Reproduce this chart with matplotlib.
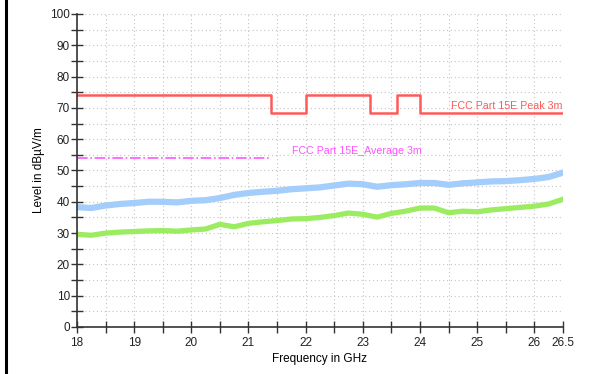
import matplotlib.pyplot as plt
from matplotlib.lines import Line2D

plt.rcParams['font.family'] = ['Liberation Sans', 'DejaVu Sans']

freq = [18.0, 18.25, 18.5, 18.75, 19.0, 19.25, 19.5, 19.75, 20.0, 20.25, 20.5,
        20.75, 21.0, 21.25, 21.5, 21.75, 22.0, 22.25, 22.5, 22.75, 23.0, 23.25,
        23.5, 23.75, 24.0, 24.25, 24.5, 24.75, 25.0, 25.25, 25.5, 25.75, 26.0,
        26.25, 26.5]
peak_trace = [38.3, 38.0, 38.8, 39.3, 39.6, 40.0, 40.0, 39.8, 40.3, 40.5, 41.2,
              42.2, 42.8, 43.2, 43.5, 44.0, 44.3, 44.6, 45.2, 45.8, 45.6, 44.8,
              45.3, 45.6, 46.0, 46.0, 45.4, 45.9, 46.2, 46.5, 46.6, 46.9, 47.3,
              47.9, 49.3]
avg_trace = [29.6, 29.3, 30.0, 30.3, 30.5, 30.7, 30.8, 30.6, 31.0, 31.3, 32.8,
             32.0, 33.1, 33.6, 34.0, 34.5, 34.6, 35.0, 35.6, 36.4, 36.0, 35.1,
             36.3, 37.0, 38.0, 38.0, 36.5, 37.0, 36.8, 37.4, 37.8, 38.2, 38.6,
             39.3, 40.8]

# limit lines
peak_lim_f = [18.0, 21.4, 21.4, 22.0, 22.0, 23.12, 23.12, 23.6, 23.6, 24.0, 24.0, 26.5]
peak_lim_v = [74, 74, 68.2, 68.2, 74, 74, 68.2, 68.2, 74, 74, 68.2, 68.2]
avg_lim_f = [18.0, 21.4]
avg_lim_v = [54, 54]

x_ticks = [18, 19, 20, 21, 22, 23, 24, 25, 26, 26.5]
x_labels = ['18', '19', '20', '21', '22', '23', '24', '25', '26', '26.5']

fig = plt.figure(figsize=(5.94, 3.74), dpi=100)
ax = fig.add_axes([0.1296, 0.1257, 0.818, 0.837])

# page border on the left
fig.add_artist(Line2D([0.0095, 0.0095], [0, 1], color='black', lw=2.2,
                      transform=fig.transFigure))

ax.plot(freq, peak_trace, color='#a3cdfb', lw=4.5, solid_joinstyle='round')
ax.plot(freq, avg_trace, color='#9cec62', lw=3.8, solid_joinstyle='round')
ax.plot(peak_lim_f, peak_lim_v, color='#ff5a5a', lw=1.8)
ax.plot(avg_lim_f, avg_lim_v, color='#ff55ff', lw=1.2, ls='-.')

ax.text(26.5, 69.0, 'FCC Part 15E Peak 3m', color='#ff5a5a', fontsize=7.7,
        ha='right', va='bottom')
ax.text(22.9, 54.6, 'FCC Part 15E_Average 3m', color='#ff55ff', fontsize=7.7,
        ha='center', va='bottom')

ax.set_xlim(18, 26.5)
ax.set_ylim(0, 100)
ax.set_xticks(x_ticks)
ax.set_xticklabels(x_labels)
ax.set_xticks([18.5 + i for i in range(8)], minor=True)
ax.set_yticks(range(0, 101, 10))
ax.set_yticks(range(5, 100, 10), minor=True)
ax.tick_params(which='both', direction='inout', color='#333333', width=1,
               labelsize=8.5, labelcolor='#222222')
ax.tick_params(which='major', length=8)
ax.tick_params(which='minor', length=8)
ax.tick_params(axis='x', pad=3)
ax.tick_params(axis='y', pad=1)

ax.grid(True, which='both', color='#c4c4c4', ls=(0, (1, 2.5)), lw=0.8)
for s in ['top', 'right']:
    ax.spines[s].set_visible(False)
for s in ['left', 'bottom']:
    ax.spines[s].set_color('#333333')
    ax.spines[s].set_linewidth(1.2)

ax.set_xlabel('Frequency in GHz', fontsize=8.5, labelpad=3)
ax.set_ylabel('Level in dBµV/m', fontsize=8.5, labelpad=4)

fig.savefig('out.png', dpi=100)
